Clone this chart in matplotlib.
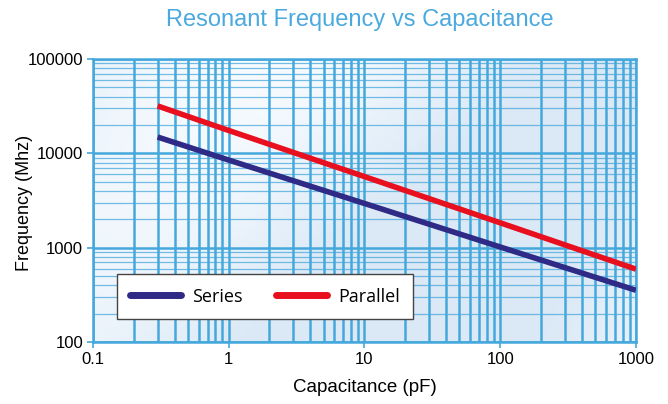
import numpy as np
import matplotlib.pyplot as plt
from matplotlib.ticker import LogLocator, FixedLocator, FixedFormatter, NullFormatter

# values
capacitance = [0.3, 1, 10, 100, 1000]
series_freq = [14900, 8500, 2950, 1020, 355]
parallel_freq = [31800, 17500, 5680, 1840, 594]

x_ticks = [0.1, 1, 10, 100, 1000]
x_labels = ['0.1', '1', '10', '100', '1000']
y_ticks = [100, 1000, 10000, 100000]
y_labels = ['100', '1000', '10000', '100000']

grid_col = '#45a8dc'
title_col = '#4aa9df'

plt.rcParams['font.family'] = ['Liberation Sans', 'DejaVu Sans']

fig = plt.figure(figsize=(6.68, 4.04), dpi=100)
ax = fig.add_axes([0.139, 0.153, 0.813, 0.701])

# soft blue background gradient
yy, xx = np.mgrid[0:1:200j, 0:1:300j]
bg = 0.55 + 0.45 * np.clip(np.sin(xx * 5.0 + yy * 2.0) * 0.5 + 0.5 - yy * 0.4, 0, 1)
ax.imshow(bg, extent=(0, 1, 0, 1), transform=ax.transAxes, cmap='Blues_r',
          vmin=-2.2, vmax=1.0, aspect='auto', zorder=0, interpolation='bicubic')

ax.set_xscale('log')
ax.set_yscale('log')
ax.set_xlim(0.1, 1000)
ax.set_ylim(100, 100000)

ax.xaxis.set_major_locator(FixedLocator(x_ticks))
ax.xaxis.set_major_formatter(FixedFormatter(x_labels))
ax.yaxis.set_major_locator(FixedLocator(y_ticks))
ax.yaxis.set_major_formatter(FixedFormatter(y_labels))
ax.xaxis.set_minor_locator(LogLocator(base=10, subs=np.arange(2, 10)))
ax.yaxis.set_minor_locator(LogLocator(base=10, subs=np.arange(2, 10)))
ax.xaxis.set_minor_formatter(NullFormatter())
ax.yaxis.set_minor_formatter(NullFormatter())

ax.grid(True, which='major', color=grid_col, lw=1.8, zorder=1)
ax.grid(True, which='minor', axis='x', color=grid_col, lw=1.8, zorder=1)
ax.grid(True, which='minor', axis='y', color=grid_col, lw=0.9, alpha=0.75, zorder=1)
ax.set_axisbelow(True)

for s in ax.spines.values():
    s.set_color(grid_col)
    s.set_linewidth(1.8)
ax.tick_params(which='major', length=4, width=1.2, color=grid_col, labelsize=12, pad=3)
ax.tick_params(which='minor', length=0)

ax.plot(capacitance, series_freq, color='#2e2a86', lw=4, label='Series', zorder=3,
        solid_capstyle='butt')
ax.plot(capacitance, parallel_freq, color='#e8101e', lw=4, label='Parallel', zorder=3,
        solid_capstyle='butt')

leg = ax.legend(loc='lower left', bbox_to_anchor=(0.044, 0.081), ncol=2, fancybox=False,
                framealpha=1, edgecolor='#444444', handlelength=2.8,
                columnspacing=1.9, borderpad=0.75, handletextpad=0.6,
                borderaxespad=0,
                prop={'family': ['Open Sans', 'DejaVu Sans'], 'size': 13})
leg.get_frame().set_linewidth(1.0)
for h in leg.get_lines():
    h.set_linewidth(5)
    h.set_solid_capstyle('round')

ax.set_xlabel('Capacitance (pF)', fontsize=13.5, labelpad=9)
ax.set_ylabel('Frequency (Mhz)', fontsize=13)
ax.yaxis.set_label_coords(-0.11, 0.49)
fig.text(0.539, 0.95, 'Resonant Frequency vs Capacitance', ha='center', va='center',
         fontsize=17, color=title_col)

fig.savefig('out.png', dpi=100)
